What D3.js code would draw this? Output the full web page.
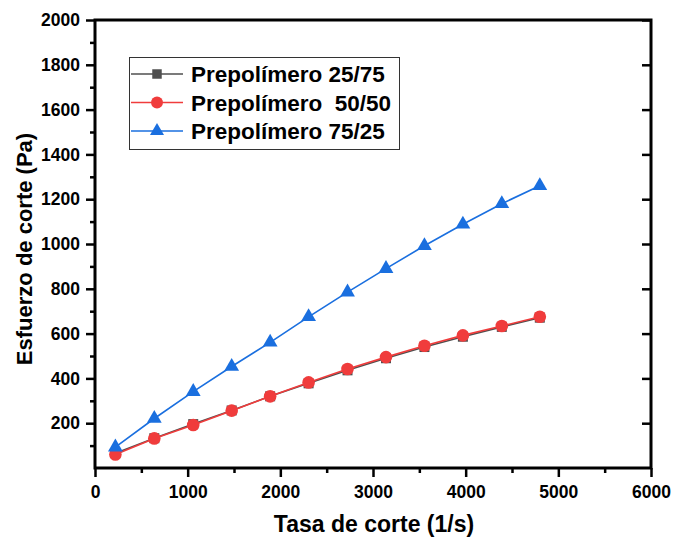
<!DOCTYPE html>
<html>
<head>
<meta charset="utf-8">
<script src="https://cdn.jsdelivr.net/npm/d3@7"></script>
<style>
  body { margin: 0; background: #fff; }
  text { font-family: "Liberation Sans", Arial, sans-serif; font-weight: bold; }
</style>
</head>
<body>
<svg width="673" height="538"></svg>
<script>
// shear rate (1/s)
const rates = [220, 640, 1060, 1475, 1890, 2305, 2725, 3140, 3555, 3970, 4390, 4800];
const s2575 = [66, 133, 196, 257, 320, 378, 436, 490, 540, 586, 630, 671];
const s5050 = [60, 132, 192, 256, 320, 382, 442, 495, 546, 592, 634, 675];
const s7525 = [93, 221, 341, 453, 561, 675, 785, 890, 992, 1088, 1180, 1260];
const seriesNames = ['Prepolímero 25/75', 'Prepolímero  50/50', 'Prepolímero 75/25'];
const xTicks = [0, 1000, 2000, 3000, 4000, 5000, 6000];
const yTicks = [200, 400, 600, 800, 1000, 1200, 1400, 1600, 1800, 2000];

const svg = d3.select('svg');
const pLeft = 95, pRight = 651, pTop = 20, pBottom = 468;

const x = d3.scaleLinear().domain([0, 6000]).range([pLeft, pRight]);
const y = d3.scaleLinear().domain([0, 2000]).range([pBottom, pTop]);

const series = [
  { name: seriesNames[0], vals: s2575, color: '#4f4f4f', shape: d3.symbolSquare, size: 100 },
  { name: seriesNames[1], vals: s5050, color: '#f03c3c', shape: d3.symbolCircle, size: 125 },
  { name: seriesNames[2], vals: s7525, color: '#1a6fdf', shape: d3.symbolTriangle, size: 95 }
];

// frame
svg.append('rect')
  .attr('x', pLeft).attr('y', pTop)
  .attr('width', pRight - pLeft).attr('height', pBottom - pTop)
  .attr('fill', 'none').attr('stroke', '#000').attr('stroke-width', 3);

const fmt = d3.format('d');

// bottom axis
const gx = svg.append('g').attr('transform', `translate(0,${pBottom})`);
gx.call(d3.axisBottom(x).tickValues(d3.range(500, 6000, 1000)).tickSize(5).tickFormat(''));
gx.call(g => g.append('g').call(d3.axisBottom(x).tickValues(xTicks).tickSize(9).tickPadding(9).tickFormat(fmt)));
gx.selectAll('.domain').remove();
gx.selectAll('line').attr('stroke', '#000').attr('stroke-width', 2.5);
gx.selectAll('text').attr('font-size', 17.5).attr('fill', '#000')
  .style('font-family', '"Liberation Sans", Arial, sans-serif').style('font-weight', 'bold');

// left axis
const gy = svg.append('g').attr('transform', `translate(${pLeft},0)`);
gy.call(d3.axisLeft(y).tickValues(d3.range(100, 2000, 200)).tickSize(5).tickFormat(''));
gy.call(g => g.append('g').call(d3.axisLeft(y).tickValues(yTicks).tickSize(9).tickPadding(6).tickFormat(fmt)));
gy.selectAll('.domain').remove();
gy.selectAll('line').attr('stroke', '#000').attr('stroke-width', 2.5);
gy.selectAll('text').attr('font-size', 17.5).attr('fill', '#000')
  .style('font-family', '"Liberation Sans", Arial, sans-serif').style('font-weight', 'bold');

// right axis (inward ticks)
const gr = svg.append('g').attr('transform', `translate(${pRight},0)`);
gr.call(d3.axisLeft(y).tickValues(yTicks).tickSize(9).tickFormat(''));
gr.selectAll('.domain').remove();
gr.selectAll('line').attr('stroke', '#000').attr('stroke-width', 2.5);

// lines and markers
const line = d3.line().x((d, i) => x(rates[i])).y(d => y(d));
series.forEach(s => {
  svg.append('path')
    .attr('d', line(s.vals))
    .attr('fill', 'none').attr('stroke', s.color).attr('stroke-width', 1.6);
  svg.append('g').selectAll('path')
    .data(s.vals)
    .join('path')
    .attr('transform', (d, i) => `translate(${x(rates[i])},${y(d)})`)
    .attr('d', d3.symbol().type(s.shape).size(s.size))
    .attr('fill', s.color);
});

// legend
const lg = svg.append('g');
lg.append('rect')
  .attr('x', 129.5).attr('y', 57.5).attr('width', 270).attr('height', 92)
  .attr('fill', '#fff').attr('stroke', '#333').attr('stroke-width', 1);
series.forEach((s, i) => {
  const cy = 74 + i * 28.5;
  lg.append('line').attr('x1', 131).attr('x2', 183).attr('y1', cy).attr('y2', cy)
    .attr('stroke', s.color).attr('stroke-width', 1.6);
  lg.append('path').attr('transform', `translate(157,${cy})`)
    .attr('d', d3.symbol().type(s.shape).size(s.size * 0.9))
    .attr('fill', s.color);
  lg.append('text').attr('x', 191).attr('y', cy).attr('dy', '0.36em')
    .attr('font-size', 22.5).attr('fill', '#000')
    .style('white-space', 'pre')
    .text(s.name);
});

// axis titles
svg.append('text')
  .attr('x', 374).attr('y', 532).attr('text-anchor', 'middle')
  .attr('font-size', 23).text('Tasa de corte (1/s)');
svg.append('text')
  .attr('transform', `translate(32,${(pTop + pBottom) / 2 + 5}) rotate(-90)`)
  .attr('text-anchor', 'middle')
  .attr('font-size', 22).text('Esfuerzo de corte (Pa)');
</script>
</body>
</html>
